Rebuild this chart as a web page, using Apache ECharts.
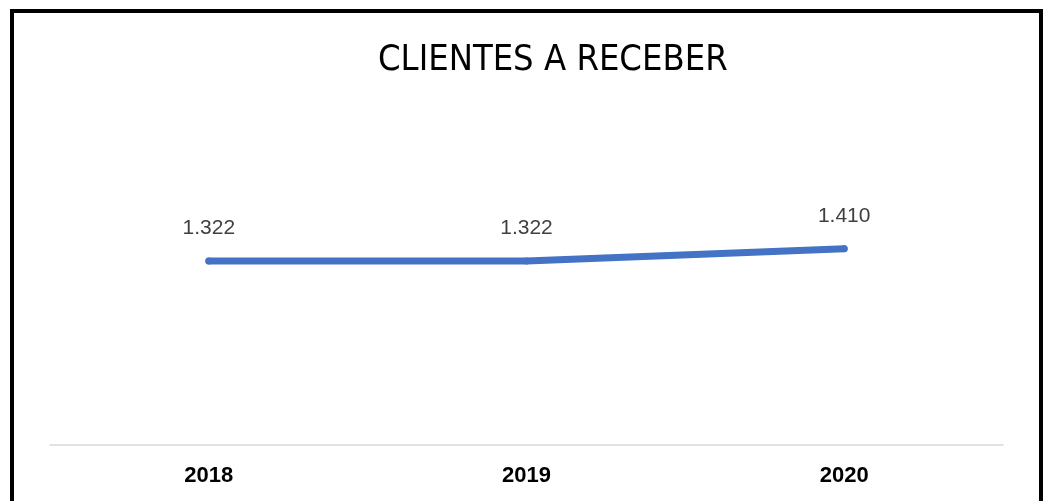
<!DOCTYPE html>
<html>
<head>
<meta charset="utf-8">
<script src="https://cdn.jsdelivr.net/npm/echarts@6/dist/echarts.min.js"></script>
<style>
  html, body { margin: 0; padding: 0; background: #fff; }
  #chart { width: 1044px; height: 501px; }
</style>
</head>
<body>
<div id="chart"></div>
<script>
const titleText = 'CLIENTES A RECEBER'
const years = ['2018', '2019', '2020']
const clientes = [1322, 1322, 1410]

// números no formato pt-BR: 1.322
const fmt = (v) => v.toLocaleString('pt-BR')

const chart = echarts.init(document.getElementById('chart'))

chart.setOption({
  backgroundColor: '#fff',
  animation: false,
  title: {
    text: titleText,
    left: 373,
    top: 38,
    textStyle: {
      fontFamily: '"DejaVu Sans Condensed", "Liberation Sans", sans-serif',
      fontWeight: 'normal',
      fontSize: 36,
      color: '#000'
    }
  },
  // moldura preta do gráfico
  graphic: [{
    type: 'rect',
    silent: true,
    shape: { x: 12, y: 11, width: 1029, height: 520 },
    style: { fill: 'none', stroke: '#000', lineWidth: 4 }
  }],
  grid: { left: 50, right: 41, top: 97, bottom: 56 },
  xAxis: {
    type: 'category',
    data: years,
    boundaryGap: true,
    axisTick: { show: false },
    axisLine: { lineStyle: { color: '#d9d9d9', width: 1.5 } },
    axisLabel: {
      margin: 20,
      color: '#000',
      fontWeight: 'bold',
      fontSize: 22,
      fontFamily: '"Liberation Sans", sans-serif'
    }
  },
  yAxis: {
    type: 'value',
    min: 0,
    max: 2500,
    show: false,
    splitLine: { show: false }
  },
  series: [{
    name: titleText,
    type: 'line',
    data: clientes,
    symbol: 'circle',
    symbolSize: 7,
    itemStyle: { color: '#4472c4' },
    lineStyle: { color: '#4472c4', width: 7, cap: 'round', join: 'round' },
    label: {
      show: true,
      position: 'top',
      distance: 17,
      formatter: (p) => fmt(p.value),
      color: '#404040',
      fontSize: 21,
      lineHeight: 24,
      fontFamily: '"Liberation Sans", sans-serif'
    }
  }]
})
</script>
</body>
</html>
